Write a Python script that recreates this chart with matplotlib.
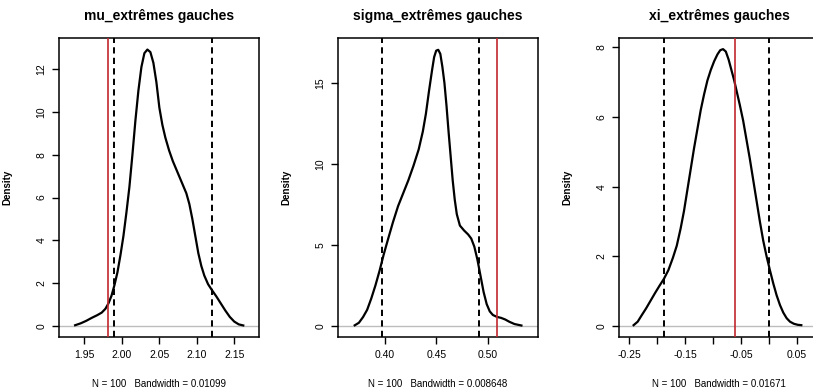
import matplotlib
matplotlib.use("Agg")
import matplotlib.pyplot as plt

plt.rcParams['font.family'] = ['Liberation Sans', 'DejaVu Sans']

# ---- data ----
titles = ["mu_extrêmes gauches", "sigma_extrêmes gauches", "xi_extrêmes gauches"]
xlabels = ["N = 100   Bandwidth = 0.01099", "N = 100   Bandwidth = 0.008648", "N = 100   Bandwidth = 0.01671"]

mu_x = [1.9375, 1.945, 1.952, 1.960, 1.967, 1.973, 1.978, 1.982, 1.986, 1.990, 1.994, 1.998,
        2.002, 2.006, 2.010, 2.014, 2.018, 2.022, 2.026, 2.030, 2.034, 2.038, 2.042, 2.046,
        2.050, 2.054, 2.058, 2.063, 2.068, 2.074, 2.080, 2.086, 2.090, 2.094, 2.098, 2.102,
        2.106, 2.110, 2.115, 2.120, 2.126, 2.132, 2.138, 2.144, 2.150, 2.156, 2.162]
mu_y = [0.03, 0.12, 0.23, 0.38, 0.50, 0.62, 0.80, 1.05, 1.40, 1.90, 2.50, 3.30,
        4.20, 5.30, 6.50, 8.00, 9.60, 11.0, 12.1, 12.75, 12.92, 12.8, 12.3, 11.4,
        10.2, 9.4, 8.8, 8.2, 7.7, 7.2, 6.7, 6.2, 5.7, 5.0, 4.2, 3.4,
        2.8, 2.35, 1.95, 1.68, 1.38, 1.05, 0.72, 0.42, 0.20, 0.07, 0.02]

sigma_x = [0.3709, 0.375, 0.379, 0.383, 0.387, 0.391, 0.395, 0.399, 0.403, 0.408, 0.413, 0.418,
           0.423, 0.428, 0.433, 0.437, 0.440, 0.443, 0.446, 0.448, 0.450, 0.452, 0.454, 0.456,
           0.458, 0.460, 0.462, 0.464, 0.466, 0.468, 0.470, 0.473, 0.477, 0.481, 0.484, 0.487,
           0.490, 0.493, 0.496, 0.499, 0.502, 0.505, 0.509, 0.513, 0.517, 0.521, 0.526, 0.5327]
sigma_y = [0.04, 0.20, 0.55, 1.0, 1.7, 2.5, 3.4, 4.4, 5.3, 6.4, 7.4, 8.2,
           9.0, 9.9, 10.9, 12.0, 13.1, 14.5, 15.8, 16.6, 17.0, 17.05, 16.8, 16.0,
           15.0, 13.6, 12.0, 10.5, 9.0, 7.8, 6.9, 6.2, 5.9, 5.65, 5.4, 4.9,
           4.1, 3.1, 2.1, 1.35, 0.9, 0.68, 0.56, 0.50, 0.40, 0.26, 0.12, 0.03]

xi_x = [-0.2423, -0.235, -0.228, -0.220, -0.212, -0.204, -0.196, -0.188, -0.180, -0.172, -0.165,
        -0.158, -0.152, -0.146, -0.140, -0.134, -0.128, -0.122, -0.116, -0.110, -0.104, -0.098,
        -0.092, -0.087, -0.082, -0.077, -0.072, -0.067, -0.062, -0.057, -0.052, -0.046, -0.040,
        -0.034, -0.028, -0.022, -0.016, -0.010, -0.004, 0.002, 0.008, 0.014, 0.020, 0.026,
        0.032, 0.038, 0.045, 0.052, 0.0583]
xi_y = [0.02, 0.12, 0.30, 0.50, 0.72, 0.94, 1.15, 1.35, 1.60, 1.95, 2.30,
        2.80, 3.30, 3.90, 4.50, 5.10, 5.65, 6.20, 6.65, 7.05, 7.35, 7.60,
        7.80, 7.92, 7.95, 7.88, 7.65, 7.35, 7.05, 6.70, 6.35, 5.90, 5.35,
        4.80, 4.20, 3.60, 3.00, 2.45, 2.00, 1.60, 1.22, 0.88, 0.60, 0.38,
        0.22, 0.12, 0.06, 0.03, 0.02]

ci_low = [1.990, 0.3978, -0.187]
ci_high = [2.1197, 0.4916, 0.0]
true_val = [1.982, 0.509, -0.060]

xticks = [[1.95, 2.00, 2.05, 2.10, 2.15], [0.40, 0.45, 0.50],
          [-0.25, -0.20, -0.15, -0.10, -0.05, 0.00, 0.05]]
xticklabels = [["1.95", "2.00", "2.05", "2.10", "2.15"], ["0.40", "0.45", "0.50"],
               ["-0.25", "", "-0.15", "", "-0.05", "", "0.05"]]
yticks = [[0, 2, 4, 6, 8, 10, 12], [0, 5, 10, 15], [0, 2, 4, 6, 8]]
xlims = [(1.916, 2.183), (0.3547, 0.5488), (-0.2685, 0.090)]
ylims = [(-0.52, 13.46), (-0.68, 17.78), (-0.32, 8.27)]

curves = [(mu_x, mu_y), (sigma_x, sigma_y), (xi_x, xi_y)]

# ---- figure ----
W, H = 813, 391
fig = plt.figure(figsize=(W / 100, H / 100), dpi=100)
lefts = [59, 338, 619]
box_w, top_px, bot_px = 200, 38, 337

for i in range(3):
    ax = fig.add_axes([lefts[i] / W, (H - bot_px) / H, box_w / W, (bot_px - top_px) / H])
    cx, cy = curves[i]
    ax.axhline(0, color='#bdbdbd', lw=1.0, zorder=1)
    ax.plot(cx, cy, color='black', lw=1.6, zorder=3, solid_joinstyle='round')
    for v in (ci_low[i], ci_high[i]):
        ax.axvline(v, color='black', lw=1.4, linestyle=(0, (3.2, 2.2)), zorder=2)
    ax.axvline(true_val[i], color='#c0272d', lw=1.2, zorder=4)
    ax.set_xlim(*xlims[i])
    ax.set_ylim(*ylims[i])
    ax.set_xticks(xticks[i])
    ax.set_xticklabels(xticklabels[i])
    ax.set_yticks(yticks[i])
    ax.set_yticklabels([str(t) for t in yticks[i]], rotation=90, va='center')
    ax.tick_params(axis='both', direction='out', length=5, width=1.0, labelsize=7.5, pad=4)
    for s in ax.spines.values():
        s.set_linewidth(1.1)
    ax.set_title(titles[i], fontsize=10, fontweight='bold', pad=13)
    ax.set_xlabel(xlabels[i], fontsize=7)
    ax.xaxis.set_label_coords(0.5, -0.14)
    ax.set_ylabel("Density", fontsize=7, fontweight='bold')
    ax.yaxis.set_label_coords(-0.235, 0.5)

fig.savefig("out.png", dpi=100)
